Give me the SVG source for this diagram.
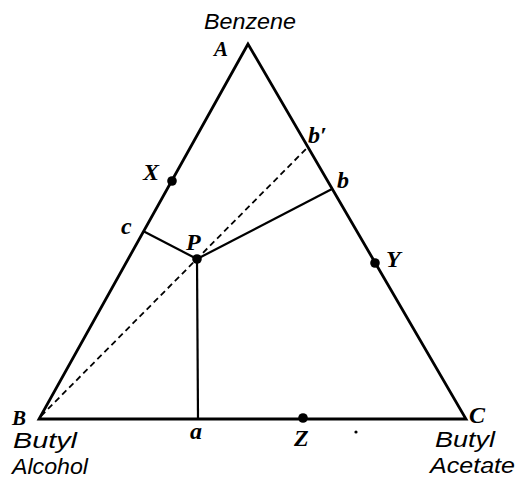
<svg xmlns="http://www.w3.org/2000/svg" width="520" height="481" viewBox="0 0 520 481">
<style>
.ln{stroke:#000;stroke-width:2.8;fill:none;stroke-linejoin:miter}
.th{stroke:#000;stroke-width:2.2;fill:none}
.ds{stroke:#000;stroke-width:1.8;fill:none;stroke-dasharray:6,4}
.lbl{font-family:"Liberation Serif",serif;font-style:italic;font-weight:bold;font-size:24px;fill:#000}
.nm{font-family:"Liberation Sans",sans-serif;font-style:italic;font-size:22px;fill:#000}
.dot{fill:#000}
</style>
<rect width="520" height="481" fill="#fff"/>
<g id="connectors">
<polygon class="ln" points="248,44 39,419 466,419"/>
<line class="ds" x1="41" y1="416" x2="308" y2="147"/>
<line class="th" x1="143" y1="231" x2="197" y2="259"/>
<line class="th" x1="197" y1="259" x2="332" y2="189"/>
<line class="th" x1="197" y1="259" x2="198" y2="419"/>
</g>
<g id="node-A"><text class="nm" x="204" y="29" textLength="92" lengthAdjust="spacingAndGlyphs">Benzene</text><text class="lbl" x="214" y="56" style="font-size:21px">A</text></g>
<g id="node-B"><text class="lbl" x="12" y="425" style="font-size:21px">B</text><text class="nm" x="13" y="448" textLength="64" lengthAdjust="spacingAndGlyphs">Butyl</text><text class="nm" x="12" y="474" textLength="76" lengthAdjust="spacingAndGlyphs">Alcohol</text></g>
<g id="node-C"><text class="lbl" x="469" y="423">C</text><text class="nm" x="435" y="447" textLength="60" lengthAdjust="spacingAndGlyphs">Butyl</text><text class="nm" x="430" y="473" textLength="85" lengthAdjust="spacingAndGlyphs">Acetate</text></g>
<g id="node-X"><circle class="dot" cx="172" cy="181" r="4.8"/><text class="lbl" x="143" y="180">X</text></g>
<g id="node-Y"><circle class="dot" cx="375" cy="263" r="4.8"/><text class="lbl" x="386" y="267">Y</text></g>
<g id="node-Z"><circle class="dot" cx="303" cy="418" r="4.8"/><text class="lbl" x="294" y="446">Z</text></g>
<g id="node-P"><circle class="dot" cx="197" cy="259" r="4.8"/><text class="lbl" x="186" y="250">P</text></g>
<g id="node-c"><text class="lbl" x="121" y="234">c</text></g>
<g id="node-b"><text class="lbl" x="337" y="188">b</text></g>
<g id="node-bp"><text class="lbl" x="308" y="143">b′</text></g>
<g id="node-a"><text class="lbl" x="190" y="439">a</text></g>
<circle class="dot" cx="356" cy="432" r="1.6"/>
</svg>
